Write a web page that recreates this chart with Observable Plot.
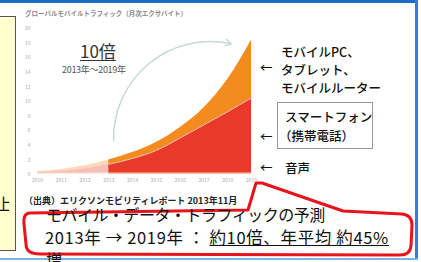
<!DOCTYPE html>
<html><head><meta charset="utf-8">
<script src="https://cdn.jsdelivr.net/npm/d3@7"></script>
<script src="https://cdn.jsdelivr.net/npm/@observablehq/plot@0.6"></script>
<style>
html,body{margin:0;padding:0;background:#fff;}
#wrap{position:relative;width:421px;height:262px;overflow:hidden;background:#fff;font-family:"Noto Sans CJK JP","Noto Sans",sans-serif;}
#plot{position:absolute;left:0;top:0;}
#plot svg{font-family:"Noto Sans CJK JP","Noto Sans",sans-serif;}
</style>
</head><body>
<div id="wrap">
  <div id="plot"></div>
</div>
<script>
// ---- data ----
const years = [2010, 2011, 2012, 2013, 2014, 2015, 2016, 2017, 2018, 2019];
const voice = [0.15, 0.17, 0.18, 0.2, 0.2, 0.2, 0.2, 0.2, 0.2, 0.2];
const smartphone = [0.1, 0.28, 0.62, 1.2, 2.0, 3.1, 4.8, 6.6, 8.4, 10.3];
const otherDevices = [0.15, 0.25, 0.4, 0.6, 0.8, 1.1, 1.4, 2.3, 4.4, 7.9];
const seriesNames = ["音声", "スマートフォン（携帯電話）", "モバイルPC、タブレット、モバイルルーター"];
const yTicks = [0, 2, 4, 6, 8, 10, 12, 14, 16, 18, 20];
const growthArrow = [{x1: 2013.2, y1: 4.6, x2: 2018.15, y2: 17.9}];
const forecastStart = 2013;

// ---- table for Plot ----
const rows = years.flatMap((yr, i) => [
  {year: yr, series: seriesNames[0], value: voice[i]},
  {year: yr, series: seriesNames[1], value: smartphone[i]},
  {year: yr, series: seriesNames[2], value: otherDevices[i]}
]);
const redTop = years.map((yr, i) => ({year: yr, value: voice[i] + smartphone[i]}));

const chart = Plot.plot({
  width: 421,
  height: 262,
  marginLeft: 37,
  marginRight: 170,
  marginTop: 28,
  marginBottom: 88,
  style: {background: "transparent", color: "#aaa"},
  x: {domain: [2010, 2019], label: null},
  y: {domain: [0, 20], label: null},
  color: {domain: seriesNames, range: ["#f6c49c", "#e8392b", "#f28c1f"]},
  marks: [
    Plot.areaY(rows, {x: "year", y: "value", fill: "series", curve: "monotone-x", fillOpacity: 0.33}),
    Plot.areaY(rows.filter(d => d.year >= forecastStart), {x: "year", y: "value", fill: "series", curve: "monotone-x"}),
    Plot.lineY(redTop.filter(d => d.year >= forecastStart), {x: "year", y: "value", curve: "monotone-x", stroke: "#f9c7a4", strokeWidth: 1}),
    Plot.arrow(growthArrow, {x1: "x1", y1: "y1", x2: "x2", y2: "y2", bend: 52, stroke: "#c3d8d6", strokeWidth: 1.4, headLength: 7}),
    Plot.axisX({ticks: years, tickFormat: d => String(d), tickSize: 0, tickPadding: 4, fontSize: 5}),
    Plot.axisY({ticks: yTicks, tickSize: 0, tickPadding: 7, fontSize: 5})
  ]
});
document.getElementById("plot").appendChild(chart);

// ---- annotations (text + decorations) ----
const wrap = document.getElementById("wrap");
function box(css) { const d = document.createElement("div"); d.style.cssText = "position:absolute;" + css; wrap.appendChild(d); return d; }
function txt(s, left, cy, size, css, parent) {
  const d = document.createElement("div"); d.textContent = s;
  d.style.cssText = "position:absolute;white-space:nowrap;line-height:1;";
  d.style.left = left + "px"; d.style.top = (cy - size / 2) + "px"; d.style.fontSize = size + "px";
  d.style.cssText += css || ""; (parent || wrap).appendChild(d); return d;
}
// frame pieces
box("left:0;top:0;width:418px;height:3px;background:#1d6cc3;");
box("left:415px;top:0;width:3px;height:260px;background:#2f80d8;");
box("left:0;top:258px;width:418px;height:2px;background:#7fb2e6;");
box("left:-1px;top:16px;width:15px;height:233px;background:#ffffcf;border:1px solid #555;");
const clip = box("left:0;top:190px;width:9px;height:26px;overflow:hidden;");
txt("上", -4, 13, 16, "color:#111;", clip);

txt("グローバルモバイルトラフィック（月次エクサバイト）", 25, 13, 6.5, "color:#888;font-weight:bold;");
txt("10倍", 80, 50, 17, "color:#333;text-decoration:underline;text-underline-offset:2px;");
txt("2013年〜2019年", 62, 69, 9, "color:#555;letter-spacing:-0.3px;");

const lab = "color:#111;font-weight:500;";
txt("←", 260, 68, 12.5, lab);
txt("モバイルPC、", 281, 52, 12.5, lab);
txt("タブレット、", 281, 70, 12.5, lab);
txt("モバイルルーター", 281, 88, 12.5, lab);
box("left:277px;top:102px;width:94px;height:45px;border:1px solid #999;background:#fff;");
txt("スマートフォン", 285, 117, 12.5, lab);
txt("（携帯電話）", 279, 136, 12.5, lab);
txt("←", 260, 137, 12.5, lab);
txt("←", 260, 168, 12.5, lab);
txt("音声", 285, 168, 12.5, lab);

txt("（出典）エリクソンモビリティレポート 2013年11月", 24, 200, 9, "color:#222;font-weight:bold;");

// callout outline
const ns = "http://www.w3.org/2000/svg";
const svg = document.createElementNS(ns, "svg");
svg.setAttribute("width", 421); svg.setAttribute("height", 262);
svg.style.cssText = "position:absolute;left:0;top:0;";
const path = document.createElementNS(ns, "path");
path.setAttribute("d", "M30 213 L248 210 L256 183 L262 183 L343 211 L402 214 Q412 215 412 225 L411 246 Q410 255 400 255 L40 254 Q26 254 26 244 L24 224 Q23 213 30 213 Z");
path.setAttribute("fill", "none"); path.setAttribute("stroke", "#e8141c"); path.setAttribute("stroke-width", 3);
path.setAttribute("stroke-linejoin", "round");
svg.appendChild(path); wrap.appendChild(svg);

txt("モバイル・データ・トラフィックの予測", 46, 214, 16, "color:#111;letter-spacing:-0.5px;");
const l2 = txt("", 45, 237, 16.5, "color:#111;letter-spacing:0.65px;");
l2.innerHTML = "2013年 → 2019年 ： <u>約10倍、年平均 約45%</u>";
txt("増", 46, 259, 16, "color:#111;");
</script>
</body></html>
